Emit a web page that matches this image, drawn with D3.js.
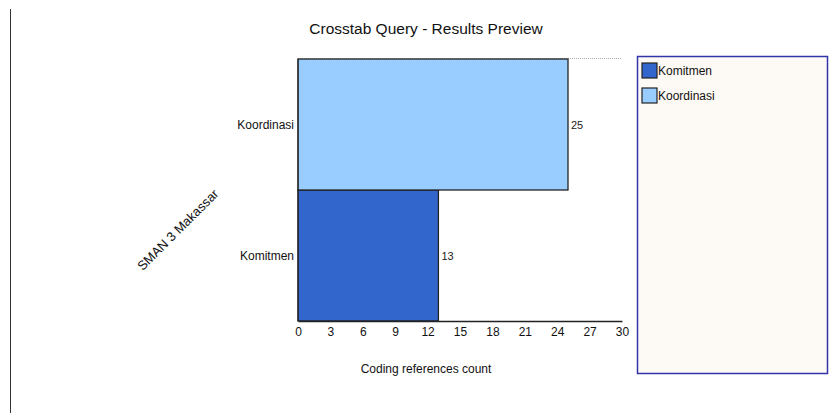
<!DOCTYPE html>
<html><head><meta charset="utf-8">
<script src="https://cdn.jsdelivr.net/npm/d3@7"></script>
<style>body{margin:0;background:#fff;}svg{display:block;font-family:"Liberation Sans",Arial,sans-serif;}</style>
</head><body>
<svg id="c" width="829" height="413"></svg>
<script>
const categories = ["Komitmen", "Koordinasi"];
const values = [13, 25];
const colors = ["#3366cc", "#99ccff"];
const xTicks = [0, 3, 6, 9, 12, 15, 18, 21, 24, 27, 30];
const groupLabel = "SMAN 3 Makassar";
const title = "Crosstab Query - Results Preview";
const xTitle = "Coding references count";

(function () {
const svg = d3.select("#c");
const pL = 298, pR = 622, pT = 59, pB = 321;
const x = d3.scaleLinear().domain([0, 30]).range([pL, pR]);
const y = d3.scaleBand().domain(categories.slice().reverse()).range([pT, pB]).padding(0);

svg.append("line").attr("x1", 10.5).attr("x2", 10.5).attr("y1", 9).attr("y2", 413).attr("stroke", "#333").attr("stroke-width", 1);

svg.append("text").attr("x", 426).attr("y", 34).attr("text-anchor", "middle").attr("font-size", 15.5).attr("fill", "#111").text(title);

svg.append("line").attr("x1", pL).attr("x2", pR).attr("y1", pT - 0.5).attr("y2", pT - 0.5)
  .attr("stroke", "#aaa").attr("stroke-dasharray", "1,1");

svg.selectAll("rect.bar").data(categories).join("rect").attr("class", "bar")
  .attr("x", x(0)).attr("y", d => y(d))
  .attr("width", (d, i) => x(values[i]) - x(0)).attr("height", y.bandwidth())
  .attr("fill", (d, i) => colors[i]).attr("stroke", "#222").attr("stroke-width", 1.3);

svg.selectAll("text.val").data(categories).join("text").attr("class", "val")
  .attr("x", (d, i) => x(values[i]) + 3).attr("y", d => y(d) + y.bandwidth() / 2 + 4)
  .attr("font-size", 11).attr("fill", "#222").text((d, i) => values[i]);

svg.selectAll("text.cat").data(categories).join("text").attr("class", "cat")
  .attr("x", pL - 4).attr("y", d => y(d) + y.bandwidth() / 2 + 4)
  .attr("text-anchor", "end").attr("font-size", 12).attr("fill", "#111").text(d => d);

svg.append("line").attr("x1", pL).attr("x2", pL).attr("y1", pT).attr("y2", pB).attr("stroke", "#222");

const xAxis = svg.append("g").attr("transform", `translate(0,${pB})`)
  .call(d3.axisBottom(x).tickValues(xTicks).tickSize(0).tickPadding(6));
xAxis.select(".domain").attr("stroke", "#222").attr("stroke-width", 1.3);
xAxis.selectAll("text").attr("font-size", 12).attr("fill", "#111").attr("font-family", "Liberation Sans, Arial, sans-serif");

svg.append("text").attr("x", 426).attr("y", 373).attr("text-anchor", "middle").attr("font-size", 12).attr("fill", "#111").text(xTitle);

svg.append("text").attr("transform", "translate(181,233) rotate(-45)").attr("text-anchor", "middle")
  .attr("font-size", 13).attr("fill", "#111").text(groupLabel);

svg.append("rect").attr("x", 637.5).attr("y", 56.5).attr("width", 190).attr("height", 317)
  .attr("fill", "#fdf9f4").attr("stroke", "#3333aa").attr("stroke-width", 1.5);
const leg = svg.selectAll("g.leg").data(categories).join("g").attr("class", "leg")
  .attr("transform", (d, i) => `translate(642,${63 + i * 25})`);
leg.append("rect").attr("width", 15).attr("height", 15).attr("fill", (d, i) => colors[i]).attr("stroke", "#222").attr("stroke-width", 1.2);
leg.append("text").attr("x", 16).attr("y", 12).attr("font-size", 12).attr("fill", "#111").text(d => d);
})();
</script>
</body></html>
